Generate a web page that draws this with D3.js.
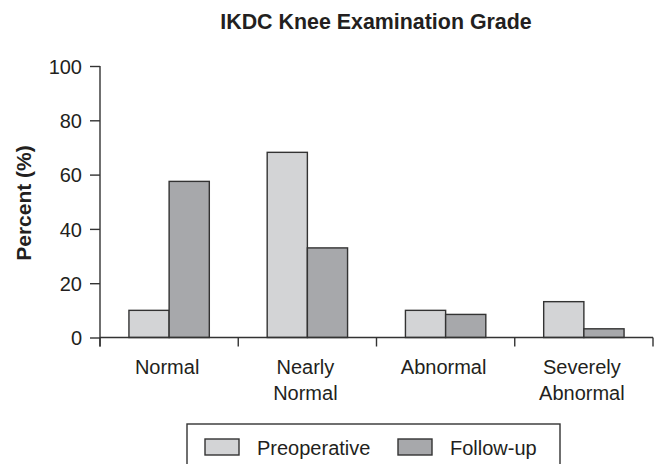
<!DOCTYPE html>
<html>
<head>
<meta charset="utf-8">
<script src="https://cdn.jsdelivr.net/npm/d3@7"></script>
<style>
  body { margin: 0; background: #fff; }
  text { font-family: 'Liberation Sans', Arial, sans-serif; fill: #231f20; }
</style>
</head>
<body>
<div class="chart"></div>
<script>
const categories = [['Normal'], ['Nearly', 'Normal'], ['Abnormal'], ['Severely', 'Abnormal']]
const seriesNames = ['Preoperative', 'Follow-up']
const preoperative = [10, 68.2, 10, 13.2]
const followUp = [57.5, 33, 8.5, 3.2]
const yTicks = [0, 20, 40, 60, 80, 100]

;(function init() {
  const width = 655
  const height = 464
  const left = 100
  const right = 653
  const top = 66
  const bottom = 337.5
  const fontSize = '20px'
  const colors = ['#d3d4d6', '#a7a8ab']
  const ink = '#333'

  const svg = d3
    .select('.chart')
    .append('svg')
    .attr('width', width)
    .attr('height', height)

  const xScale = d3
    .scaleBand()
    .domain(d3.range(categories.length))
    .range([left, right])

  const inner = d3
    .scaleBand()
    .domain([0, 1])
    .range([0, xScale.bandwidth()])
    .paddingInner(0)
    .paddingOuter(0.72)

  const yScale = d3.scaleLinear().domain([0, 100]).range([bottom, top])

  // title
  svg
    .append('text')
    .attr('x', 376)
    .attr('y', 29)
    .attr('text-anchor', 'middle')
    .style('font-size', '21.4px')
    .style('font-weight', 'bold')
    .text('IKDC Knee Examination Grade')

  // y label
  svg
    .append('text')
    .attr('transform', 'translate(31,' + 203 + ') rotate(-90)')
    .attr('text-anchor', 'middle')
    .style('font-size', '21px')
    .style('font-weight', 'bold')
    .text('Percent (%)')

  // bars
  const series = [preoperative, followUp]
  series.forEach((values, s) => {
    svg
      .selectAll('.bar' + s)
      .data(values)
      .enter()
      .append('rect')
      .attr('x', (d, i) => xScale(i) + inner(s))
      .attr('y', (d) => yScale(d))
      .attr('width', inner.bandwidth())
      .attr('height', (d) => yScale(0) - yScale(d))
      .attr('fill', colors[s])
      .attr('stroke', ink)
      .attr('stroke-width', 1.4)
  })

  // y axis
  const yAxis = svg
    .append('g')
    .attr('transform', 'translate(' + left + ',0)')
    .call(d3.axisLeft(yScale).tickValues(yTicks).tickSize(10).tickPadding(8))
  yAxis.select('.domain').attr('stroke', ink).attr('stroke-width', 1.4).attr('d', 'M0,' + top + 'V' + (bottom + 9))
  yAxis.selectAll('line').attr('stroke', ink).attr('stroke-width', 1.4)
  yAxis.selectAll('text').style('font-size', fontSize).style('font-family', "'Liberation Sans', Arial, sans-serif").attr('fill', '#231f20').attr('dy', '0.36em')

  // x axis
  const xAxis = svg.append('g').attr('transform', 'translate(0,' + bottom + ')')
  xAxis
    .append('line')
    .attr('x1', left)
    .attr('x2', right)
    .attr('stroke', ink)
    .attr('stroke-width', 1.4)
  xAxis
    .selectAll('.tick')
    .data(d3.range(categories.length + 1))
    .enter()
    .append('line')
    .attr('x1', (d) => (d < categories.length ? xScale(d) : right))
    .attr('x2', (d) => (d < categories.length ? xScale(d) : right))
    .attr('y1', 0)
    .attr('y2', 9)
    .attr('stroke', ink)
    .attr('stroke-width', 1.4)

  const labels = xAxis
    .selectAll('.cat')
    .data(categories)
    .enter()
    .append('text')
    .attr('x', (d, i) => xScale(i) + xScale.bandwidth() / 2 - 2)
    .attr('y', 36)
    .attr('text-anchor', 'middle')
    .style('font-size', fontSize)
  labels
    .selectAll('tspan')
    .data((d) => d)
    .enter()
    .append('tspan')
    .attr('x', function () {
      return this.parentNode.getAttribute('x')
    })
    .attr('dy', (d, i) => (i === 0 ? 0 : 26))
    .text((d) => d)

  // legend
  const legend = svg.append('g')
  legend
    .append('rect')
    .attr('x', 187)
    .attr('y', 424)
    .attr('width', 373)
    .attr('height', 50)
    .attr('fill', 'none')
    .attr('stroke', ink)
    .attr('stroke-width', 1.4)
  const legendX = [205, 398]
  seriesNames.forEach((name, s) => {
    legend
      .append('rect')
      .attr('x', legendX[s])
      .attr('y', 439)
      .attr('width', 34)
      .attr('height', 16)
      .attr('fill', colors[s])
      .attr('stroke', ink)
      .attr('stroke-width', 1.4)
    legend
      .append('text')
      .attr('x', legendX[s] + 52)
      .attr('y', 455)
      .style('font-size', fontSize)
      .text(name)
  })
})()
</script>
</body>
</html>
